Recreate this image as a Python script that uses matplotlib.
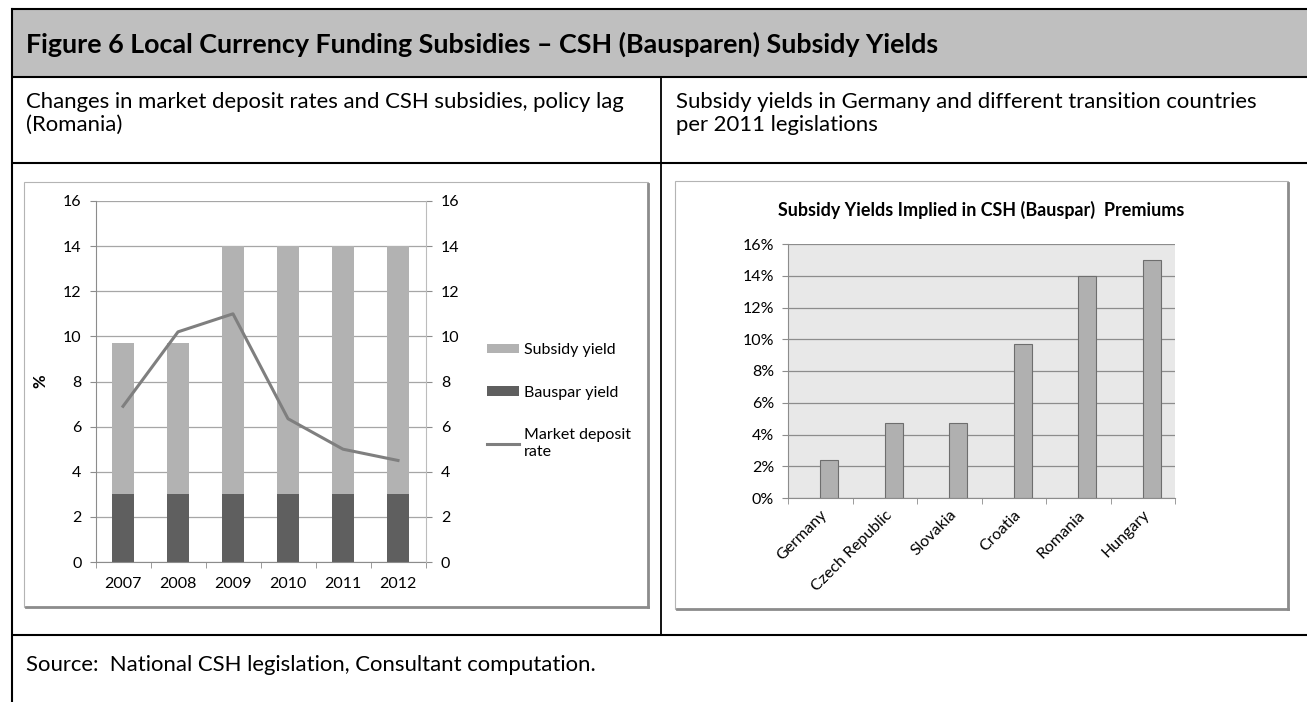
import matplotlib
matplotlib.use("Agg")
import matplotlib.pyplot as plt
from matplotlib.patches import Patch, Rectangle
from matplotlib.lines import Line2D
from matplotlib.ticker import PercentFormatter, MultipleLocator

plt.rcParams["font.family"] = ["Lato", "DejaVu Sans"]

# ---- data ----
years = ["2007", "2008", "2009", "2010", "2011", "2012"]
bauspar_yield = [3, 3, 3, 3, 3, 3]
subsidy_total = [9.7, 9.7, 14, 14, 14, 14]      # top of the stacked bar
market_deposit_rate = [6.9, 10.2, 11.0, 6.35, 5.0, 4.5]

countries = ["Germany", "Czech Republic", "Slovakia", "Croatia", "Romania", "Hungary"]
implied_yield = [2.4, 4.7, 4.7, 9.7, 14.0, 15.0]

W, H = 1307, 702
LBL = 11.5
fig = plt.figure(figsize=(W / 100, H / 100), dpi=100)


def px_rect(x0, y0, x1, y1):
    return [x0 / W, 1 - y1 / H, (x1 - x0) / W, (y1 - y0) / H]


def fit(txt, width_px):
    r = fig.canvas.get_renderer()
    bb = txt.get_window_extent(r)
    txt.set_fontsize(txt.get_fontsize() * width_px / bb.width)
    return txt.get_fontsize()


# ---- table layout (pixel coordinates) ----
bg = fig.add_axes([0, 0, 1, 1], zorder=0)
bg.set_xlim(0, W); bg.set_ylim(H, 0); bg.axis("off")
bg.add_patch(Rectangle((11, 9), W - 11, 68, color="#bfbfbf", lw=0))
for y in (9, 77, 163, 635):
    bg.plot([11, W], [y, y], color="black", lw=1.5, solid_capstyle="butt")
bg.plot([11.5, 11.5], [9, H], color="black", lw=1.5)
bg.plot([661, 661], [77, 635], color="black", lw=1.3)

for (x0, y0, x1, y1) in [(24, 182, 648, 607), (675, 181, 1288, 609)]:
    bg.add_patch(Rectangle((x0, y0), x1 - x0, y1 - y0, fc="white",
                           ec="#b4b4b4", lw=0.8))
    bg.plot([x1, x1], [y0 + 2, y1], color="#8c8c8c", lw=2)
    bg.plot([x0 + 2, x1], [y1, y1], color="#8c8c8c", lw=2)

title = fig.text(26 / W, 1 - 44 / H,
                 "Figure 6 Local Currency Funding Subsidies \u2013 CSH (Bausparen) Subsidy Yields",
                 fontsize=14, fontweight="bold", va="center", ha="left")
fit(title, 920)
sub_l = fig.text(26 / W, 1 - 102 / H,
                 "Changes in market deposit rates and CSH subsidies, policy lag",
                 fontsize=12, va="center", ha="left")
fs = fit(sub_l, 596)
fig.text(26 / W, 1 - 125 / H, "(Romania)", fontsize=fs, va="center", ha="left")
fig.text(676 / W, 1 - 102 / H,
         "Subsidy yields in Germany and different transition countries",
         fontsize=fs, va="center", ha="left")
fig.text(676 / W, 1 - 125 / H, "per 2011 legislations", fontsize=fs,
         va="center", ha="left")
fig.text(26 / W, 1 - 665 / H,
         "Source:  National CSH legislation, Consultant computation.",
         fontsize=fs, va="center", ha="left")

# ---- left chart: stacked bars + market deposit rate ----
GRID = "#a6a6a6"
AXC = "#8c8c8c"
ax1 = fig.add_axes(px_rect(95.5, 201, 425.5, 562), zorder=2)
ax1.patch.set_alpha(0)
x = range(len(years))
ax1.bar(x, bauspar_yield, width=0.4, color="#5f5f5f", zorder=2)
ax1.bar(x, [t - b for t, b in zip(subsidy_total, bauspar_yield)],
        bottom=bauspar_yield, width=0.4, color="#b2b2b2", zorder=2)
ax1.set_xlim(-0.5, 5.5)
ax1.set_ylim(0, 16)
ax1.yaxis.set_major_locator(MultipleLocator(2))
ax1.grid(axis="y", color=GRID, lw=0.9, zorder=0)
ax1.set_axisbelow(True)
ax1.set_xticks(list(x), years)
ax1.set_xticks([i - 0.5 for i in range(len(years) + 1)], minor=True)
ax1.tick_params(axis="x", which="major", length=0, pad=11, labelsize=LBL)
ax1.tick_params(axis="x", which="minor", length=4, color=AXC, direction="out")
ax1.tick_params(axis="y", length=4, color=AXC, direction="out", pad=6,
                labelsize=LBL)
for s in ("top", "right"):
    ax1.spines[s].set_visible(False)
for s in ("left", "bottom"):
    ax1.spines[s].set_color(AXC)
ax1.set_ylabel("%", fontsize=LBL + 0.5, fontweight="bold")
ax1.yaxis.set_label_coords(-0.142, 0.5)

ax1r = ax1.twinx()
ax1r.set_zorder(3)
ax1r.plot(list(x), market_deposit_rate, color="#7f7f7f", lw=2.2)
ax1r.set_ylim(0, 16)
ax1r.yaxis.set_major_locator(MultipleLocator(2))
ax1r.tick_params(axis="y", length=4, color=AXC, direction="out", pad=7,
                 labelsize=LBL)
for s in ("top", "left", "bottom"):
    ax1r.spines[s].set_visible(False)
ax1r.spines["right"].set_color("#bcbcbc")

handles = [Patch(fc="#b2b2b2"), Patch(fc="#5f5f5f"),
           Line2D([], [], color="#7f7f7f", lw=2.2)]
fig.legend(handles, ["Subsidy yield", "Bauspar yield", "Market deposit\nrate"],
           loc="upper left", bbox_to_anchor=(487 / W, 1 - 343 / H),
           frameon=False, fontsize=LBL, handlelength=2.0, handleheight=0.55,
           handletextpad=0.3, labelspacing=1.8, borderpad=0,
           borderaxespad=0)

# ---- right chart: implied subsidy yields ----
ax2 = fig.add_axes(px_rect(788, 244, 1175, 498), zorder=2)
ax2.set_facecolor("#e8e8e8")
ax2.bar(range(len(countries)), implied_yield, width=0.28, align="edge",
        color="#b0b0b0", edgecolor="#6e6e6e", lw=0.8, zorder=2)
ax2.set_xlim(-0.5, 5.5)
ax2.set_ylim(0, 16)
ax2.yaxis.set_major_locator(MultipleLocator(2))
ax2.yaxis.set_major_formatter(PercentFormatter(xmax=100, decimals=0))
ax2.grid(axis="y", color="#8c8c8c", lw=0.9, zorder=0)
ax2.set_axisbelow(True)
ax2.set_xticks(range(len(countries)), countries, rotation=45, ha="right",
               rotation_mode="anchor")
ax2.set_xticks([i - 0.5 for i in range(len(countries) + 1)], minor=True)
ax2.tick_params(axis="x", which="major", length=0, pad=7, labelsize=LBL)
ax2.tick_params(axis="x", which="minor", length=4, color=AXC, direction="out")
ax2.tick_params(axis="y", length=4, color=AXC, direction="out", pad=6,
                labelsize=LBL)
for s in ("top", "right"):
    ax2.spines[s].set_visible(False)
for s in ("left", "bottom"):
    ax2.spines[s].set_color(AXC)
t2 = fig.text(981 / W, 1 - 210 / H, "Subsidy Yields Implied in CSH (Bauspar)  Premiums",
              fontsize=11, fontweight="bold", ha="center", va="center")
fit(t2, 404)

fig.savefig("out.png", dpi=100)
